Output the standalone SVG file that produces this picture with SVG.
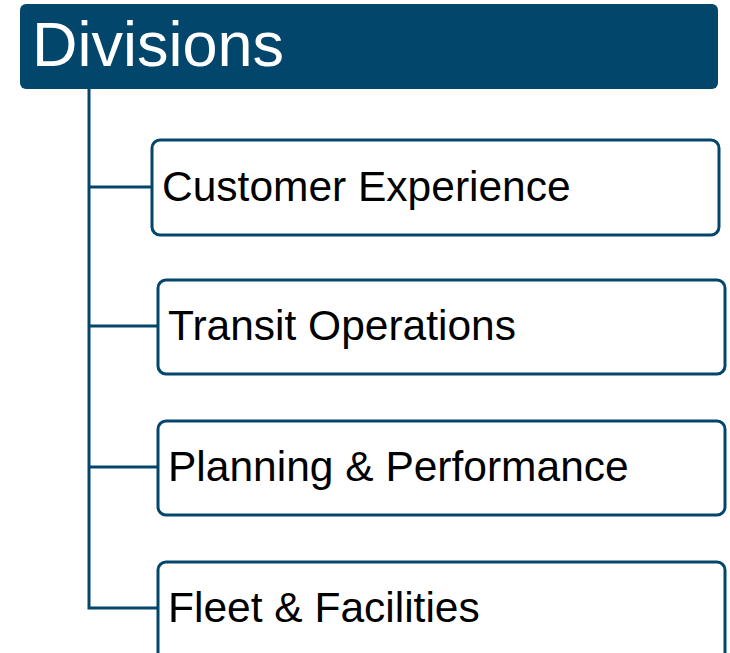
<svg xmlns="http://www.w3.org/2000/svg" width="730" height="653" viewBox="0 0 730 653">
  <style>
    .box { fill: #ffffff; stroke: #02476b; stroke-width: 3; }
    .label { font-family: "Liberation Sans", Arial, sans-serif; font-size: 42.5px; fill: #000000; }
    .link { fill: none; stroke: #02476b; stroke-width: 3; }
  </style>
  <rect width="730" height="653" fill="#ffffff"/>
  <g id="connectors">
    <path class="link" d="M89,89 V608 H158"/>
    <path class="link" d="M89,187 H152"/>
    <path class="link" d="M89,326 H158"/>
    <path class="link" d="M89,467 H158"/>
  </g>
  <g id="divisions">
    <rect x="20" y="4" width="698" height="85" rx="6" fill="#02476b"/>
    <text x="32" y="66" font-family="Liberation Sans, Arial, sans-serif" font-size="63" fill="#ffffff">Divisions</text>
  </g>
  <g id="customer-experience">
    <rect class="box" x="152" y="140" width="567" height="95" rx="8"/>
    <text class="label" x="162" y="201">Customer Experience</text>
  </g>
  <g id="transit-operations">
    <rect class="box" x="158" y="280" width="567" height="94" rx="8"/>
    <text class="label" x="168" y="340">Transit Operations</text>
  </g>
  <g id="planning-performance">
    <rect class="box" x="158" y="421" width="567" height="94" rx="8"/>
    <text class="label" x="168" y="481">Planning &amp; Performance</text>
  </g>
  <g id="fleet-facilities">
    <rect class="box" x="158" y="562" width="567" height="100" rx="8"/>
    <text class="label" x="168" y="622">Fleet &amp; Facilities</text>
  </g>
</svg>
